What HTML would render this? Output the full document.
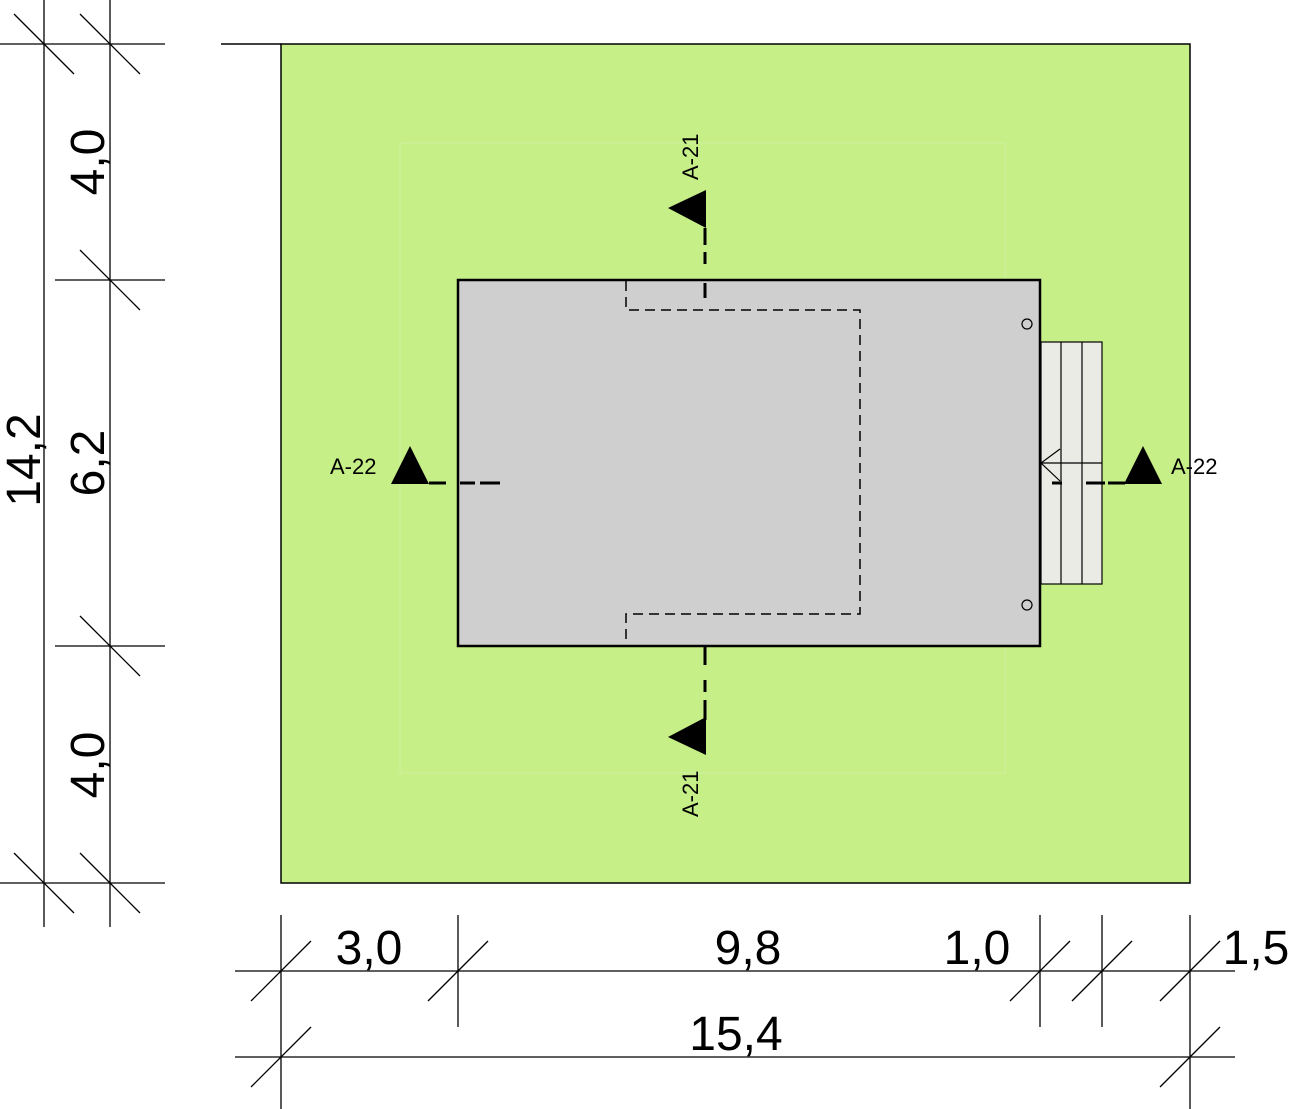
<!DOCTYPE html>
<html><head><meta charset="utf-8"><style>html,body{margin:0;padding:0;background:#fff}svg{display:block}</style></head><body>
<svg width="1293" height="1109" xmlns="http://www.w3.org/2000/svg" font-family="Liberation Sans, sans-serif">
<rect x="281" y="44" width="909" height="839" fill="#c6ef88" stroke="#000" stroke-width="1.5"/>
<line x1="221" y1="44" x2="281" y2="44" stroke="#000" stroke-width="1.5"/>
<rect x="400" y="143" width="605" height="630" fill="none" stroke="#d0f0a0" stroke-width="1"/>
<rect x="458" y="280" width="582" height="366" fill="#cfcfcf" stroke="#000" stroke-width="2.5"/>
<path d="M626 281 V310 H860 V614 H626 V645" fill="none" stroke="#000" stroke-width="1.5" stroke-dasharray="10,6"/>
<circle cx="1027" cy="324" r="5" fill="none" stroke="#000" stroke-width="1.2"/>
<circle cx="1027" cy="605" r="5" fill="none" stroke="#000" stroke-width="1.2"/>
<rect x="1041" y="342" width="61" height="242" fill="#ebebe6" stroke="#000" stroke-width="1.2"/>
<line x1="1061" y1="342" x2="1061" y2="584" stroke="#000" stroke-width="1.2"/>
<line x1="1082" y1="342" x2="1082" y2="584" stroke="#000" stroke-width="1.2"/>
<line x1="1041" y1="463" x2="1102" y2="463" stroke="#000" stroke-width="1.2"/>
<path d="M1060 449 L1041 463 L1060 481" fill="none" stroke="#000" stroke-width="1.2"/>
<g stroke="#000" stroke-width="3" fill="none">
<path d="M705 228 V245 M705 252 V264 M705 283 V298"/>
<path d="M705 646 V665 M705 680 V692 M705 700 V720"/>
<path d="M429 483 H446 M460 483 H475 M480 483 H500"/>
<path d="M1052 483 H1062 M1086 483 H1105 M1108 483 H1125"/>
</g>
<polygon points="706,190 706,228 668,208" fill="#000"/>
<polygon points="706,755 706,717 668,737" fill="#000"/>
<polygon points="391,484 429,484 410,446" fill="#000"/>
<polygon points="1124,484 1162,484 1143,446" fill="#000"/>
<g font-size="22" fill="#000">
<text x="330" y="474">A-22</text>
<text x="1171" y="474">A-22</text>
<text transform="translate(698,180) rotate(-90)">A-21</text>
<text transform="translate(698,817) rotate(-90)">A-21</text>
</g>
<g stroke="#000" stroke-width="1.3">
<line x1="44" y1="0" x2="44" y2="927"/>
<line x1="110" y1="0" x2="110" y2="927"/>
<line x1="0" y1="44" x2="165" y2="44"/>
<line x1="55" y1="280" x2="165" y2="280"/>
<line x1="55" y1="646" x2="165" y2="646"/>
<line x1="0" y1="883" x2="165" y2="883"/>
<line x1="14" y1="14" x2="74" y2="74"/>
<line x1="80" y1="14" x2="140" y2="74"/>
<line x1="80" y1="250" x2="140" y2="310"/>
<line x1="80" y1="616" x2="140" y2="676"/>
<line x1="14" y1="853" x2="74" y2="913"/>
<line x1="80" y1="853" x2="140" y2="913"/>
<line x1="235" y1="971" x2="1235" y2="971"/>
<line x1="235" y1="1057" x2="1235" y2="1057"/>
<line x1="281" y1="915" x2="281" y2="1109"/>
<line x1="1190" y1="915" x2="1190" y2="1109"/>
<line x1="458" y1="915" x2="458" y2="1027"/>
<line x1="1040" y1="915" x2="1040" y2="1027"/>
<line x1="1102" y1="915" x2="1102" y2="1027"/>
<line x1="251" y1="1001" x2="311" y2="941"/>
<line x1="428" y1="1001" x2="488" y2="941"/>
<line x1="1010" y1="1001" x2="1070" y2="941"/>
<line x1="1072" y1="1001" x2="1132" y2="941"/>
<line x1="1160" y1="1001" x2="1220" y2="941"/>
<line x1="251" y1="1087" x2="311" y2="1027"/>
<line x1="1160" y1="1087" x2="1220" y2="1027"/>
</g>
<g font-size="48" fill="#000" text-anchor="middle">
<text transform="translate(104,162) rotate(-90)">4,0</text>
<text transform="translate(104,463) rotate(-90)">6,2</text>
<text transform="translate(104,765) rotate(-90)">4,0</text>
<text transform="translate(40,460) rotate(-90)">14,2</text>
<text x="369" y="964">3,0</text>
<text x="748" y="964">9,8</text>
<text x="977" y="964">1,0</text>
<text x="1256" y="964">1,5</text>
<text x="736" y="1050">15,4</text>
</g>
</svg>
</body></html>
